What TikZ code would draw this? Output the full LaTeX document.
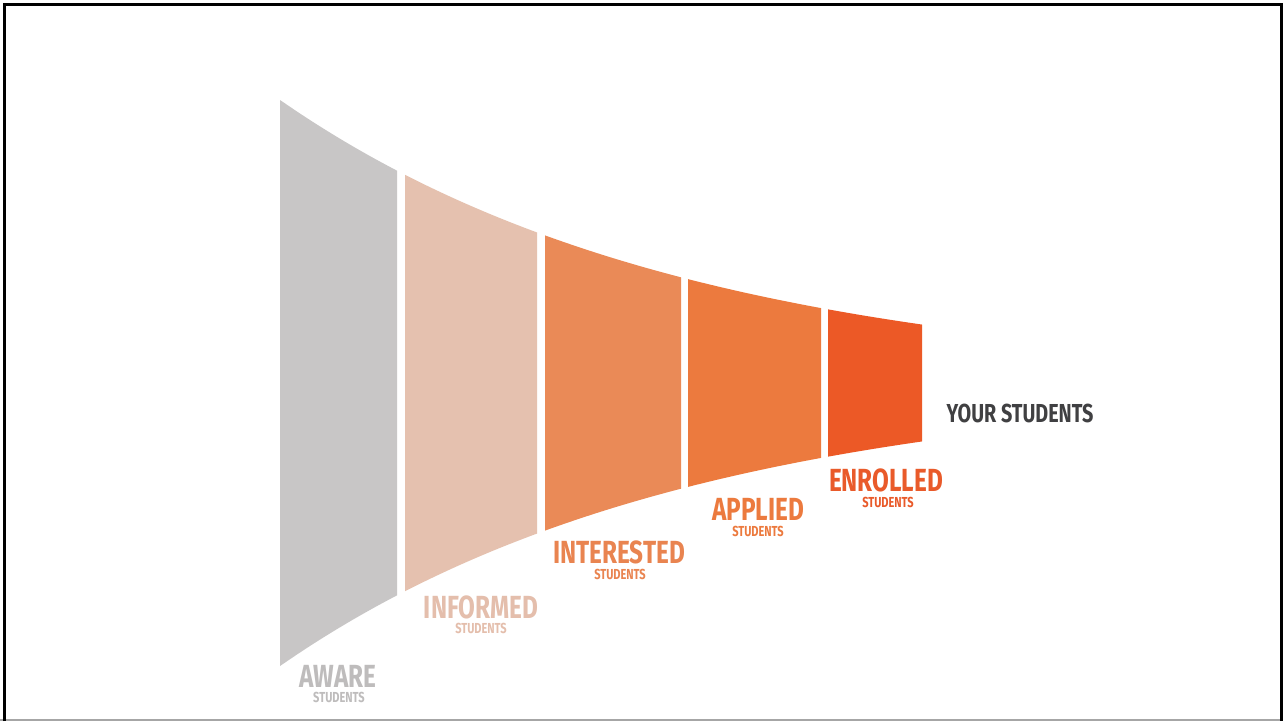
\documentclass[tikz,border=0pt]{standalone}
\usepackage{fontspec}
\newfontfamily\stagefont[FakeStretch=0.76]{Fira Sans}
\definecolor{awareC}{RGB}{200,198,198}
\definecolor{informedC}{RGB}{229,193,175}
\definecolor{interestedC}{RGB}{234,138,87}
\definecolor{appliedC}{RGB}{236,122,62}
\definecolor{enrolledC}{RGB}{236,89,38}
\definecolor{awareT}{RGB}{190,188,188}
\definecolor{informedT}{RGB}{228,190,172}
\definecolor{interestedT}{RGB}{233,132,80}
\definecolor{appliedT}{RGB}{236,122,62}
\definecolor{enrolledT}{RGB}{233,90,42}
\definecolor{darkT}{RGB}{64,64,66}
\tikzset{
  stage/.style={font=\stagefont\bfseries\fontsize{32}{32}\selectfont, inner sep=0pt},
  sub/.style={font=\stagefont\bfseries\fontsize{14.5}{14.5}\selectfont, inner sep=0pt},
}
% funnel outline: half-height shrinks exponentially around the axis y = 383
\def\funnel{plot[domain=280:922,samples=80] (\x,{383-283*exp(-0.00245*(\x-280))})
  -- plot[domain=922:280,samples=80] (\x,{383+283*exp(-0.00245*(\x-280))}) -- cycle}
\newcommand\band[3]{\begin{scope}\clip (#1,0) rectangle (#2,721); \fill[#3] \funnel; \end{scope}}
\begin{document}
\begin{tikzpicture}[x=1pt,y=-1pt]
\useasboundingbox (0,0) rectangle (1283,721);
\fill[white] (0,0) rectangle (1283,721);
% frame
\draw[line width=1.6pt,gray!70] (0,720.2) -- (1283,720.2);
\draw[line width=3pt,black] (4.5,721) -- (4.5,4.5) -- (1281.5,4.5) -- (1281.5,721);

% funnel bands
\band{280}{397}{awareC}
\band{405}{537}{informedC}
\band{545}{681}{interestedC}
\band{688}{821}{appliedC}
\band{828}{922}{enrolledC}

% labels
\node[stage,text=awareT] (aware) at (338,676) {AWARE};
\node[sub,text=awareT] (awareS) at (339,697) {STUDENTS};
\node[stage,text=informedT] (informed) at (481,607) {INFORMED};
\node[sub,text=informedT] (informedS) at (481,628.5) {STUDENTS};
\node[stage,text=interestedT] (interested) at (619,552) {INTERESTED};
\node[sub,text=interestedT] (interestedS) at (620,574) {STUDENTS};
\node[stage,text=appliedT] (applied) at (758,509) {APPLIED};
\node[sub,text=appliedT] (appliedS) at (758,531) {STUDENTS};
\node[stage,text=enrolledT] (enrolled) at (886,480) {ENROLLED};
\node[sub,text=enrolledT] (enrolledS) at (888,502) {STUDENTS};
\node[font=\stagefont\bfseries\fontsize{26}{26}\selectfont,inner sep=0pt,text=darkT] (yours) at (1020,413) {YOUR STUDENTS};
\end{tikzpicture}
\end{document}
